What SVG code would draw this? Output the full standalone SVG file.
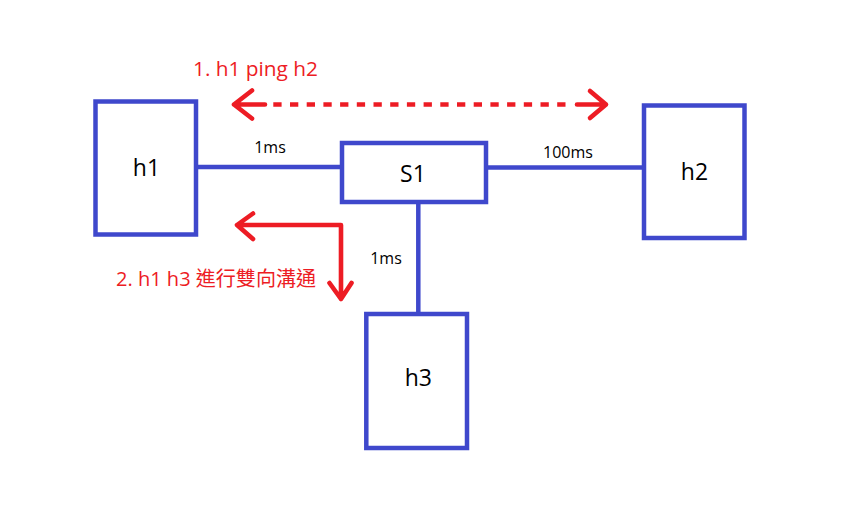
<svg xmlns="http://www.w3.org/2000/svg" width="842" height="509" viewBox="0 0 842 509">
<style>
.box{fill:none;stroke:#3F48CC;stroke-width:4.5}
.link{fill:none;stroke:#3F48CC;stroke-width:4.5}
.lbl{font-family:"Open Sans","Liberation Sans",sans-serif;fill:#000}
.node{font-size:23px;text-anchor:middle}
.ms{font-size:16px;text-anchor:middle}
.red{fill:none;stroke:#ED1C24;stroke-width:4.6;stroke-linecap:round;stroke-linejoin:round}
.rtxt{font-family:"Open Sans","Liberation Sans","Noto Sans CJK TC",sans-serif;font-size:20px;fill:#ED1C24}
</style>
<rect width="842" height="509" fill="#fff"/>
<g id="connectors">
<line class="link" x1="198" y1="167" x2="342" y2="167"/>
<line class="link" x1="486" y1="167.5" x2="644" y2="167.5"/>
<line class="link" x1="418.3" y1="202" x2="418.3" y2="314"/>
<text class="lbl ms" x="270" y="153">1ms</text>
<text class="lbl ms" x="568" y="158">100ms</text>
<text class="lbl ms" x="386" y="264">1ms</text>
</g>
<g id="h1">
<rect class="box" x="95.5" y="101.5" width="100.5" height="133"/>
<text class="lbl node" x="146.5" y="176">h1</text>
</g>
<g id="S1">
<rect class="box" x="342" y="143" width="144" height="59"/>
<text class="lbl node" x="413" y="181.5">S1</text>
</g>
<g id="h2">
<rect class="box" x="644" y="105.5" width="100.5" height="132.5"/>
<text class="lbl node" x="694.5" y="180">h2</text>
</g>
<g id="h3">
<rect class="box" x="366.3" y="314" width="100.7" height="134"/>
<text class="lbl node" x="418.3" y="385.7">h3</text>
</g>
<g id="annotations">
<text class="rtxt" x="193" y="76" textLength="125" lengthAdjust="spacingAndGlyphs">1. h1 ping h2</text>
<path class="red" d="M234,104.5 H265 M252,90.5 L234,104.5 L252,118.5"/>
<line x1="273.3" y1="104.5" x2="568.3" y2="104.5" stroke="#ED1C24" stroke-width="4.6" stroke-dasharray="8.3 8.4"/>
<path class="red" d="M577,104.5 H606 M590,91 L606,104.5 L590,118"/>
<path class="red" d="M237,225 H341 V299 M253,213.5 L237,225 L253,239 M329.5,283 L341,299 L351.5,283"/>
<text class="rtxt" x="116" y="286" textLength="200" lengthAdjust="spacingAndGlyphs">2. h1 h3 進行雙向溝通</text>
</g>
</svg>
